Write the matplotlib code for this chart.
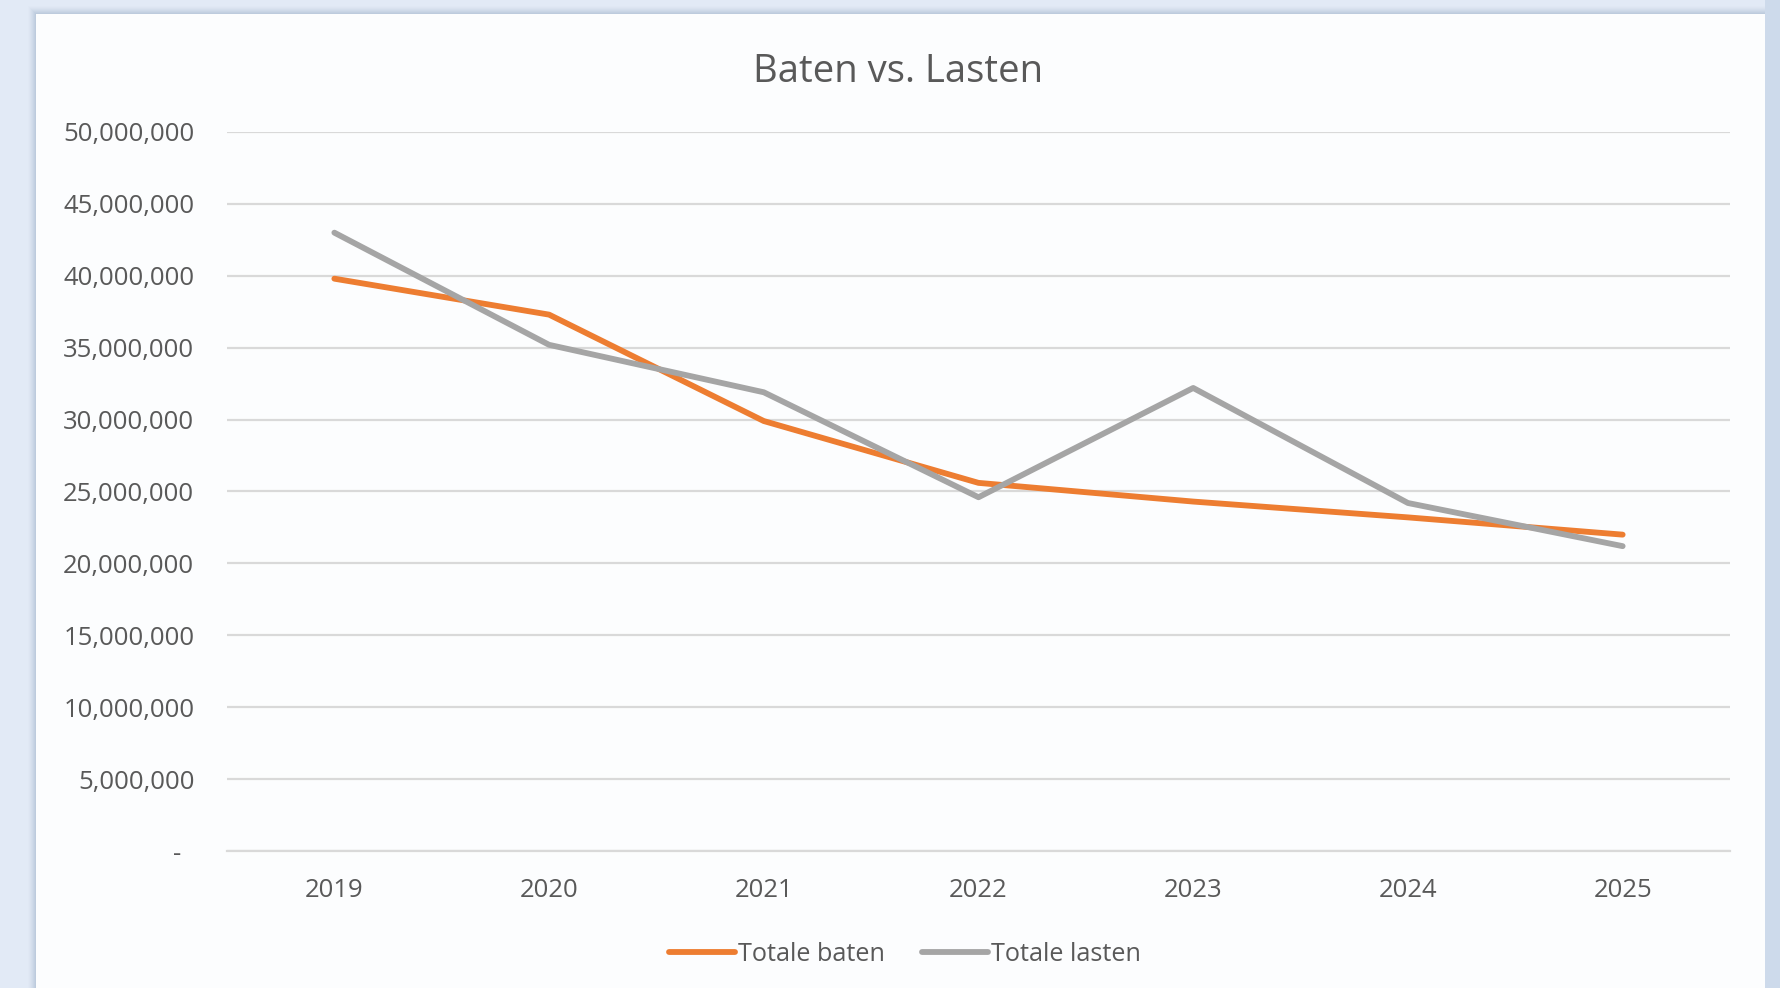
import matplotlib
matplotlib.use("Agg")
import matplotlib.pyplot as plt
import numpy as np
from matplotlib.patches import Rectangle

years = ["2019", "2020", "2021", "2022", "2023", "2024", "2025"]
totale_baten = [39.8e6, 37.3e6, 29.9e6, 25.6e6, 24.3e6, 23.2e6, 22.0e6]
totale_lasten = [43.0e6, 35.2e6, 31.9e6, 24.6e6, 32.2e6, 24.2e6, 21.2e6]
y_ticks = [0, 5e6, 10e6, 15e6, 20e6, 25e6, 30e6, 35e6, 40e6, 45e6, 50e6]
y_labels = ["-  "] + [f"{v:,.0f}" for v in y_ticks[1:]]

plt.rcParams["font.family"] = ["Open Sans", "DejaVu Sans"]
W, H = 1781, 988
fig = plt.figure(figsize=(W / 100, H / 100), dpi=100, facecolor="#e2eaf6")

# card behind the chart, with a soft shadow on the left
for i, a in enumerate(np.linspace(0.02, 0.10, 8)):
    fig.patches.append(Rectangle(((36 - 8 + i) / W, 0), (1765 - 36 + 2 * (8 - i)) / W, (H - 14 + 8 - i) / H,
                                 transform=fig.transFigure, color="#8fa3c0", alpha=a, lw=0, zorder=0))
fig.patches.append(Rectangle((1765 / W, 0), 16 / W, 1, transform=fig.transFigure,
                             color="#cddaeb", lw=0, zorder=0.5))
fig.patches.append(Rectangle((36 / W, 0), (1765 - 36) / W, (H - 14) / H, transform=fig.transFigure,
                             color="#fcfdfe", lw=0, zorder=1))

ax = fig.add_axes([227 / W, 1 - 851 / H, (1730 - 227) / W, (851 - 132) / H])
ax.set_zorder(5)
ax.set_facecolor("none")
x = np.arange(len(years))
ax.plot(x, totale_baten, color="#ed7d31", lw=4.2, solid_capstyle="round", label="Totale baten", zorder=3)
ax.plot(x, totale_lasten, color="#a5a5a5", lw=4.2, solid_capstyle="round", label="Totale lasten", zorder=3)

ax.set_xlim(-0.5, len(years) - 0.5)
ax.set_ylim(0, 50e6)
ax.set_xticks(x, years)
ax.set_yticks(y_ticks, y_labels)
ax.tick_params(length=0, labelsize=18.5, labelcolor="#595959")
ax.tick_params(axis="y", pad=23.5)
ax.tick_params(axis="x", pad=19.5)
ax.grid(axis="y", color="#d9d9d9", lw=1.6)
ax.set_axisbelow(True)
for s in ["top", "right", "left"]:
    ax.spines[s].set_visible(False)
ax.spines["bottom"].set_color("#d9d9d9")
ax.spines["bottom"].set_linewidth(1.6)

fig.text(898 / W, 1 - 72 / H, "Baten vs. Lasten", ha="center", va="center",
         fontsize=27.5, color="#595959", zorder=6)
leg = fig.legend(loc="center", bbox_to_anchor=(905 / W, 1 - 954 / H), ncol=2, frameon=False,
                 fontsize=18.2, labelcolor="#595959", handlelength=2.6, handletextpad=0.1, columnspacing=1.5)
leg.set_zorder(6)

fig.savefig("out.png", dpi=100, facecolor=fig.get_facecolor())
